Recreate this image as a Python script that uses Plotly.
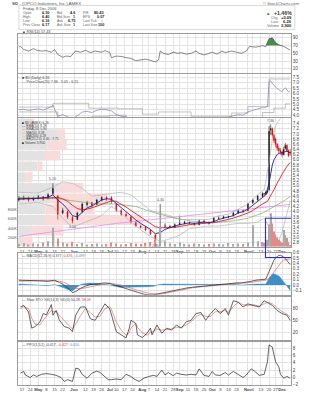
import numpy as np
import plotly.graph_objects as go

# ---------------- data (x = trading-day index, 12 Apr .. 8 Dec 2006) ----------------
tick_idx = [2, 7, 12, 17, 22, 27, 34, 41, 46, 51, 56, 60, 65, 70, 76, 80, 85, 90, 95, 99,
            104, 109, 114, 119, 124, 129, 134, 141, 144, 149, 154, 158, 162]
tick_text = ["17", "24", "<b>May</b>", "8", "15", "22", "<b>Jun</b>", "12", "19", "26", "<b>Jul</b>",
             "10", "17", "24", "<b>Aug</b>", "7", "14", "21", "28", "<b>Sep</b>", "11", "18", "25",
             "<b>Oct</b>", "9", "16", "23", "<b>Nov</b>", "6", "13", "20", "27", "<b>Dec</b>"]

c_idx = [0, 3, 6, 9, 12, 15, 18, 21, 24, 27, 30, 33, 36, 39, 42, 45, 48, 51, 54, 57,
         60, 63, 66, 69, 72, 75, 78, 81, 84, 87, 90, 93, 96, 99, 102, 105, 108, 111, 114, 117,
         120, 123, 126, 129, 132, 135, 138, 141, 144, 147, 150, 151, 152, 153, 154, 155, 156, 157,
         158, 159, 160, 161, 162, 163, 164, 165, 166, 167]
c_open = [4.45, 4.50, 4.55, 4.45, 4.50, 4.58, 4.50, 4.70, 4.60, 3.95, 4.00, 3.78, 3.70, 4.00, 4.28, 4.35, 4.28, 4.45, 4.55, 4.55,
          4.30, 4.05, 3.90, 3.80, 3.58, 3.45, 3.40, 3.30, 3.10, 3.00, 3.45, 3.45, 3.40, 3.50, 3.55, 3.60, 3.55, 3.50, 3.65, 3.60,
          3.60, 3.75, 3.75, 3.80, 3.85, 3.95, 4.05, 4.05, 4.35, 4.45, 4.60, 4.70, 4.68, 4.75, 4.85, 7.15, 7.20, 6.95,
          6.80, 6.60, 6.45, 6.35, 6.30, 6.20, 6.45, 6.55, 6.35, 6.30]
c_high = [4.60, 4.62, 4.58, 4.58, 4.65, 4.60, 4.72, 5.10, 4.65, 4.15, 4.05, 3.85, 4.00, 4.35, 4.42, 4.38, 4.50, 4.60, 4.60, 4.60,
          4.35, 4.10, 3.98, 3.85, 3.62, 3.50, 3.45, 3.32, 3.15, 4.30, 3.55, 3.50, 3.55, 3.85, 3.65, 3.62, 3.58, 3.70, 3.68, 3.62,
          3.80, 3.82, 3.85, 3.85, 4.00, 4.10, 4.08, 4.35, 4.50, 4.65, 4.75, 4.72, 4.80, 4.85, 7.30, 7.36, 7.25, 7.00,
          6.85, 6.65, 6.55, 6.45, 6.35, 6.50, 6.65, 6.60, 6.40, 6.40]
c_low = [4.40, 4.45, 4.38, 4.42, 4.48, 4.42, 4.48, 4.65, 3.70, 3.90, 3.72, 3.55, 3.68, 3.98, 4.20, 4.18, 4.25, 4.40, 4.42, 4.30,
         4.00, 3.85, 3.80, 3.55, 3.42, 3.35, 3.25, 3.10, 2.85, 2.95, 3.40, 3.35, 3.38, 3.48, 3.52, 3.50, 3.45, 3.48, 3.55, 3.50,
         3.58, 3.70, 3.72, 3.75, 3.82, 3.92, 3.95, 4.02, 4.30, 4.42, 4.55, 4.60, 4.65, 4.70, 4.80, 6.95, 6.85, 6.65,
         6.50, 6.35, 6.25, 6.20, 6.10, 6.18, 6.40, 6.30, 6.10, 6.16]
c_close = [4.50, 4.55, 4.45, 4.50, 4.58, 4.48, 4.65, 4.90, 3.90, 4.05, 3.80, 3.65, 3.95, 4.30, 4.35, 4.25, 4.45, 4.55, 4.50, 4.40,
           4.05, 3.90, 3.85, 3.60, 3.45, 3.40, 3.30, 3.15, 2.95, 3.40, 3.45, 3.40, 3.50, 3.55, 3.60, 3.55, 3.50, 3.65, 3.60, 3.55,
           3.75, 3.75, 3.80, 3.80, 3.95, 4.05, 4.00, 4.30, 4.45, 4.60, 4.70, 4.68, 4.75, 4.80, 7.10, 7.20, 6.95, 6.75,
           6.60, 6.45, 6.35, 6.30, 6.20, 6.40, 6.55, 6.35, 6.17, 6.26]
volume_k = [60, 80, 50, 70, 60, 90, 120, 410, 180, 90, 70, 110, 60, 80, 50, 60, 70, 50, 60, 90,
            70, 50, 60, 80, 70, 60, 80, 100, 150, 430, 120, 70, 60, 90, 60, 50, 70, 60, 50, 60,
            70, 60, 50, 80, 60, 70, 60, 90, 460, 120, 100, 80, 90, 150, 480, 720, 500, 330,
            260, 200, 150, 120, 90, 360, 250, 190, 100, 40]

ma_fast_idx = [0, 6, 12, 18, 21, 24, 27, 30, 33, 36, 39, 42, 45, 48, 51, 54, 57, 60, 63, 66, 69, 72, 75, 78, 81, 84,
               87, 90, 93, 96, 99, 102, 105, 108, 111, 114, 117, 120, 123, 126, 129, 132, 135, 138, 141, 144, 147,
               150, 152, 154, 155, 156, 157, 158, 159, 160, 161, 162, 163, 164, 165, 166, 167]
ma_fast = [4.50, 4.50, 4.52, 4.56, 4.65, 4.45, 4.30, 4.10, 3.85, 3.80, 3.98, 4.15, 4.22, 4.32, 4.45, 4.50, 4.48, 4.32, 4.15,
           4.00, 3.85, 3.68, 3.55, 3.45, 3.32, 3.15, 3.20, 3.32, 3.40, 3.45, 3.50, 3.55, 3.57, 3.55, 3.58, 3.60, 3.58,
           3.62, 3.70, 3.75, 3.78, 3.85, 3.95, 4.00, 4.10, 4.25, 4.42, 4.58, 4.65, 5.10, 5.50, 5.80, 6.00, 6.12, 6.20,
           6.25, 6.28, 6.28, 6.30, 6.32, 6.33, 6.30, 6.28]
ma_slow_idx = [0, 6, 12, 18, 24, 27, 30, 33, 36, 39, 42, 45, 48, 51, 54, 57, 60, 63, 66, 69, 72, 75, 78, 81, 84, 87, 90,
               93, 96, 99, 102, 105, 108, 111, 114, 117, 120, 123, 126, 129, 132, 135, 138, 141, 144, 147, 150, 153,
               155, 157, 159, 161, 163, 165, 167]
ma_slow = [4.48, 4.50, 4.50, 4.52, 4.55, 4.50, 4.40, 4.25, 4.12, 4.08, 4.10, 4.15, 4.22, 4.30, 4.38, 4.42, 4.40, 4.30,
           4.18, 4.05, 3.92, 3.78, 3.65, 3.55, 3.42, 3.38, 3.38, 3.38, 3.40, 3.43, 3.47, 3.50, 3.52, 3.53, 3.55, 3.56,
           3.58, 3.62, 3.66, 3.70, 3.75, 3.82, 3.88, 3.95, 4.05, 4.18, 4.30, 4.40, 4.60, 4.85, 5.10, 5.35, 5.55, 5.75, 5.90]
ma50_idx = [0, 12, 24, 36, 48, 60, 72, 84, 96, 108, 120, 132, 141, 150, 156, 160, 164, 167]
ma50 = [4.55, 4.52, 4.50, 4.40, 4.30, 4.30, 4.20, 3.95, 3.75, 3.62, 3.58, 3.65, 3.75, 3.95, 4.15, 4.30, 4.45, 4.58]
ma200_idx = [0, 30, 60, 90, 120, 150, 167]
ma200 = [3.05, 3.30, 3.55, 3.75, 3.95, 4.15, 4.28]
bb_up_idx = [0, 12, 21, 27, 33, 39, 45, 51, 57, 63, 69, 75, 81, 87, 93, 99, 105, 111, 117, 123, 129, 135, 141, 147,
             151, 154, 156, 158, 161, 164, 167]
bb_up = [4.75, 4.72, 4.95, 5.15, 5.10, 4.90, 4.60, 4.65, 4.70, 4.75, 4.65, 4.35, 4.05, 3.95, 3.85, 3.70, 3.70, 3.70,
         3.70, 3.85, 3.90, 4.10, 4.30, 4.65, 4.85, 5.90, 6.80, 7.30, 7.60, 7.70, 7.75]
bb_lo_idx = [0, 12, 21, 27, 33, 39, 45, 51, 57, 63, 69, 75, 81, 87, 93, 99, 105, 111, 117, 123, 129, 135, 141, 147,
             151, 154, 156, 158, 160, 162, 164, 167]
bb_lo = [4.30, 4.35, 4.20, 3.75, 3.40, 3.55, 3.70, 3.85, 4.20, 3.95, 3.60, 3.30, 3.05, 2.85, 2.95, 3.10, 3.35, 3.40,
         3.45, 3.45, 3.50, 3.55, 3.55, 3.60, 3.75, 3.40, 3.05, 2.85, 2.90, 3.20, 3.70, 4.40]

vbp_price = [2.86, 3.27, 3.68, 4.10, 4.51, 4.92, 5.33, 5.75, 6.16, 6.57, 6.99, 7.40]
vbp_up = [3, 8, 16, 17, 20, 25, 5, 12, 16, 18, 24, 8]
vbp_down = [6, 20, 60, 30, 35, 15, 4, 3, 10, 12, 5, 2]

ch_up_idx = [0, 21, 43, 61, 76, 86, 106, 116, 131, 141, 154, 167]
ch_up = [4.75, 5.10, 4.65, 4.60, 4.10, 4.30, 3.90, 3.90, 4.20, 4.80, 7.36, 7.36]
ch_lo_idx = [0, 24, 45, 56, 66, 72, 84, 106, 121, 136, 150, 157, 164, 167]
ch_lo = [4.30, 3.55, 3.90, 4.00, 3.60, 3.30, 2.85, 3.35, 3.45, 3.70, 4.25, 4.65, 5.05, 5.05]

rsi_idx = [0, 1, 3, 6, 9, 11, 14, 17, 20, 22, 24, 27, 29, 32, 34, 35, 38, 41, 44, 47, 51, 53, 56, 57, 60, 63, 66,
           69, 72, 75, 78, 81, 84, 86, 87, 89, 92, 95, 98, 100, 103, 106, 109, 111, 114, 117, 119, 122, 125, 127,
           131, 134, 137, 140, 142, 146, 150, 152, 154, 156, 158, 160, 163, 167]
rsi_val = [66, 68, 60, 56, 62, 58, 56, 57, 53, 60, 47, 40, 43, 42, 52, 56, 53, 58, 52, 56, 53, 57, 52, 39, 43, 42, 39,
           37, 31, 33, 35, 32, 28, 33, 56, 50, 47, 53, 50, 52, 48, 50, 56, 50, 46, 50, 53, 48, 56, 52,
           56, 53, 50, 56, 68, 66, 70, 67, 88, 90, 78, 72, 68, 58]

macd_idx = [0, 6, 12, 18, 22, 25, 28, 31, 33, 35, 38, 41, 44, 47, 50, 53, 56, 59, 62, 65, 68, 71, 74, 77, 80, 83, 86,
            89, 92, 95, 98, 101, 104, 107, 110, 113, 116, 119, 122, 125, 128, 131, 134, 137, 140, 143, 146, 149,
            152, 154, 155, 156, 157, 158, 159, 160, 161, 162, 163, 164, 165, 166, 167]
macd_line = [0.09, 0.09, 0.08, 0.07, 0.09, 0.05, 0.00, -0.08, -0.14, -0.12, -0.06, -0.02, 0.01, 0.02, 0.03, 0.04, 0.03,
             0.00, -0.03, -0.06, -0.09, -0.12, -0.15, -0.17, -0.18, -0.18, -0.16, -0.14, -0.12, -0.10, -0.08, -0.06,
             -0.05, -0.04, -0.03, -0.02, -0.01, 0.00, 0.01, 0.02, 0.03, 0.03, 0.04, 0.04, 0.05, 0.07, 0.09, 0.10,
             0.11, 0.25, 0.33, 0.40, 0.46, 0.50, 0.53, 0.55, 0.55, 0.54, 0.52, 0.49, 0.45, 0.41, 0.38]
macd_signal = [0.07, 0.08, 0.08, 0.08, 0.08, 0.07, 0.05, 0.01, -0.03, -0.06, -0.07, -0.05, -0.03, -0.01, 0.01, 0.02,
               0.03, 0.02, 0.01, -0.02, -0.05, -0.08, -0.11, -0.13, -0.15, -0.16, -0.17, -0.16, -0.14, -0.12, -0.10,
               -0.08, -0.07, -0.05, -0.04, -0.03, -0.02, -0.01, 0.00, 0.01, 0.02, 0.02, 0.03, 0.04, 0.04, 0.05, 0.07,
               0.08, 0.09, 0.12, 0.16, 0.20, 0.25, 0.30, 0.34, 0.38, 0.41, 0.44, 0.46, 0.47, 0.48, 0.48, 0.48]
macd_hist = [0.02, 0.01, 0.00, -0.01, 0.01, -0.02, -0.05, -0.09, -0.11, -0.06, 0.01, 0.03, 0.04, 0.03, 0.02, 0.02, 0.00,
             -0.02, -0.04, -0.04, -0.04, -0.04, -0.04, -0.04, -0.03, -0.02, 0.01, 0.02, 0.02, 0.02, 0.02, 0.02, 0.02,
             0.01, 0.01, 0.01, 0.01, 0.01, 0.01, 0.01, 0.01, 0.01, 0.01, 0.00, 0.01, 0.02, 0.02, 0.02, 0.02, 0.13,
             0.17, 0.20, 0.21, 0.20, 0.19, 0.17, 0.14, 0.10, 0.06, 0.02, -0.03, -0.07, -0.10]

sto_idx = [1, 3, 6, 8, 10, 13, 15, 17, 20, 21, 23, 25, 28, 31, 33, 35, 38, 41, 44, 47, 50, 53, 56, 57, 60, 63, 66, 68,
           69, 72, 73, 76, 79, 81, 82, 85, 88, 91, 94, 97, 100, 103, 106, 109, 112, 115, 118, 121, 124, 127, 129,
           132, 135, 138, 141, 144, 148, 151, 153, 156, 159, 162, 165, 167]
sto_k = [84, 88, 71, 30, 34, 46, 67, 64, 90, 63, 75, 50, 34, 30, 21, 63, 84, 84, 54, 50, 71, 92, 79, 63, 21, 13, 5, 30,
         50, 42, 13, 6, 17, 30, 13, 38, 17, 30, 25, 38, 30, 46, 50, 67, 70, 50, 67, 80, 67, 80, 63,
         100, 96, 84, 92, 88, 84, 100, 96, 88, 75, 67, 63, 50]
sto_d = [80, 85, 80, 55, 40, 38, 50, 60, 75, 72, 72, 62, 48, 36, 28, 40, 62, 80, 70, 58, 60, 80, 85, 78, 45, 25, 12, 18,
         30, 42, 32, 18, 12, 20, 20, 28, 25, 26, 28, 32, 32, 38, 46, 58, 66, 60, 60, 72, 72, 75, 70,
         85, 96, 90, 88, 90, 86, 92, 96, 92, 82, 72, 66, 58]

ppo_idx = [1, 3, 4, 7, 9, 11, 14, 17, 20, 23, 26, 28, 30, 33, 35, 37, 39, 42, 45, 48, 50, 53, 55, 57, 60, 63, 66, 69,
           71, 74, 77, 80, 83, 85, 88, 90, 92, 95, 97, 100, 103, 106, 109, 111, 114, 117, 119, 121, 124, 127, 129,
           132, 135, 138, 140, 143, 145, 148, 151, 153, 154, 156, 158, 160, 161, 163, 165, 167]
ppo_val = [1.1, 1.6, 0.6, -0.1, 0.6, 0.2, 0.8, 1.0, 0.8, 0.5, -0.1, -1.2, -0.7, -1.2, 2.5, 2.3, 0.8, -0.3, 1.1, 1.7,
           1.3, 0.2, -0.7, -0.7, -0.5, -0.7, 0.8, 0.2, -0.5, -1.2, -0.3, 0.2, 0.5, 0.2, 2.0, 0.6, 1.3, 0.4, 1.1, 0.8,
           0.6, 0.8, 0.6, 2.3, 0.5, 0.2, 1.6, 0.6, 0.5, 1.3, 0.6, 1.6, 0.8, -0.1, 0.6, 2.3, 1.7, 0.5, 0.8, 4.3,
           9.0, 8.4, 4.3, 2.9, 0.8, -0.3, 0.2, -0.3]

# ---------------- layout helpers ----------------
W, H = 310, 400
PL, PR, PT, PB = 10, 294, 34, 392
FONT = "Liberation Sans"
GRID = "#e3e3e3"
AXL = "#9c9c9c"


def X(px):
    return (px - PL) / (PR - PL)


def Y(py):
    return 1 - (py - PT) / (PB - PT)


def dom(top, bot):
    return [Y(bot), Y(top)]


fig = go.Figure()

# ---- RSI panel (x, y) ----
fig.add_trace(go.Scatter(x=rsi_idx, y=[70] * len(rsi_idx), mode="lines", line=dict(width=0),
                         xaxis="x", yaxis="y", hoverinfo="skip", showlegend=False))
fig.add_trace(go.Scatter(x=rsi_idx, y=np.maximum(np.array(rsi_val, float), 70), mode="lines",
                         line=dict(width=0), fill="tonexty", fillcolor="#4c8a4c",
                         xaxis="x", yaxis="y", hoverinfo="skip", showlegend=False))
fig.add_trace(go.Scatter(x=rsi_idx, y=rsi_val, mode="lines", line=dict(color="#3a3a3a", width=0.6),
                         xaxis="x", yaxis="y", showlegend=False))

# ---- price channel panel (x2, y2) ----
fig.add_trace(go.Scatter(x=ch_up_idx, y=ch_up, mode="lines", line=dict(color="#9a9a9a", width=0.6, shape="hv"),
                         xaxis="x2", yaxis="y2", showlegend=False))
fig.add_trace(go.Scatter(x=ch_lo_idx, y=ch_lo, mode="lines", line=dict(color="#9a9a9a", width=0.6, shape="hv"),
                         xaxis="x2", yaxis="y2", showlegend=False))
fig.add_trace(go.Scatter(x=c_idx, y=c_close, mode="lines", line=dict(color="#6a6ab4", width=0.6),
                         xaxis="x2", yaxis="y2", showlegend=False))

# ---- main price panel (x3, y3) ----
fig.add_trace(go.Bar(y=vbp_price, x=vbp_up, base=-0.5, orientation="h", width=0.38,
                     marker=dict(color="#e2e2e2", line=dict(width=0)), xaxis="x3", yaxis="y3",
                     showlegend=False))
fig.add_trace(go.Bar(y=vbp_price, x=vbp_down, base=[-0.5 + v for v in vbp_up], orientation="h", width=0.38,
                     marker=dict(color="#f8dcdc", line=dict(width=0)), xaxis="x3", yaxis="y3",
                     showlegend=False))
fig.add_trace(go.Scatter(x=ma200_idx, y=ma200, mode="lines", line=dict(color="#e58be5", width=0.8),
                         xaxis="x3", yaxis="y3", showlegend=False))
fig.add_trace(go.Scatter(x=ma50_idx, y=ma50, mode="lines", line=dict(color="#7fa86f", width=0.7),
                         xaxis="x3", yaxis="y3", showlegend=False))
fig.add_trace(go.Scatter(x=bb_up_idx, y=bb_up, mode="lines", line=dict(color="#a8a8a8", width=0.6),
                         xaxis="x3", yaxis="y3", showlegend=False))
fig.add_trace(go.Scatter(x=bb_lo_idx, y=bb_lo, mode="lines", line=dict(color="#a8a8a8", width=0.6),
                         xaxis="x3", yaxis="y3", showlegend=False))
fig.add_trace(go.Scatter(x=ma_slow_idx, y=ma_slow, mode="lines", line=dict(color="#d42020", width=0.9),
                         xaxis="x3", yaxis="y3", showlegend=False))
fig.add_trace(go.Scatter(x=ma_fast_idx, y=ma_fast, mode="lines", line=dict(color="#20209a", width=0.9),
                         xaxis="x3", yaxis="y3", showlegend=False))
fig.add_trace(go.Candlestick(x=c_idx, open=c_open, high=c_high, low=c_low, close=c_close,
                             increasing=dict(line=dict(color="#111111", width=0.6), fillcolor="#111111"),
                             decreasing=dict(line=dict(color="#d00000", width=0.6), fillcolor="#d00000"),
                             whiskerwidth=0, xaxis="x3", yaxis="y3", showlegend=False))
vol_colors = ["#e08a8a" if c < o else "#a9a9a9" for o, c in zip(c_open, c_close)]
fig.add_trace(go.Bar(x=c_idx, y=volume_k, marker=dict(color=vol_colors, line=dict(width=0)),
                     xaxis="x3", yaxis="y7", showlegend=False))

# ---- MACD panel (x4, y4) ----
fig.add_trace(go.Scatter(x=macd_idx, y=macd_hist, mode="lines", line=dict(color="#3d8fc6", width=0.4),
                         fill="tozeroy", fillcolor="#3d8fc6", xaxis="x4", yaxis="y4", showlegend=False))
fig.add_trace(go.Scatter(x=macd_idx, y=macd_signal, mode="lines", line=dict(color="#e06a6a", width=0.7),
                         xaxis="x4", yaxis="y4", showlegend=False))
fig.add_trace(go.Scatter(x=macd_idx, y=macd_line, mode="lines", line=dict(color="#222222", width=0.7),
                         xaxis="x4", yaxis="y4", showlegend=False))

# ---- Slow stochastic (x5, y5) ----
fig.add_trace(go.Scatter(x=sto_idx, y=sto_d, mode="lines", line=dict(color="#e07070", width=0.7),
                         xaxis="x5", yaxis="y5", showlegend=False))
fig.add_trace(go.Scatter(x=sto_idx, y=sto_k, mode="lines", line=dict(color="#222222", width=0.7),
                         xaxis="x5", yaxis="y5", showlegend=False))

# ---- PPO (x6, y6) ----
fig.add_trace(go.Scatter(x=ppo_idx, y=ppo_val, mode="lines", line=dict(color="#222222", width=0.7),
                         xaxis="x6", yaxis="y6", showlegend=False))

# ---------------- axes ----------------
tickfont = dict(family=FONT, size=4.6, color="#444444")
panels = {
    1: dict(top=34, bot=73.5, rng=[0, 100], ticks=[10, 30, 50, 70, 90], fmt="d"),
    2: dict(top=75, bot=119, rng=[3.8, 7.8], ticks=[4.0, 4.5, 5.0, 5.5, 6.0, 6.5, 7.0, 7.5], fmt=".1f"),
    3: dict(top=120, bot=251, rng=[2.65, 7.6], ticks=[round(2.8 + 0.2 * i, 1) for i in range(24)], fmt=".1f"),
    4: dict(top=257, bot=300, rng=[-0.18, 0.6], ticks=[-0.1, 0.0, 0.1, 0.2, 0.3, 0.4, 0.5, 0.6], fmt=".1f"),
    5: dict(top=302, bot=346, rng=[0, 110], ticks=[20, 50, 80], fmt="d"),
    6: dict(top=348, bot=392, rng=[-2.19, 9.86], ticks=[-2, 0, 2, 4, 6, 8], fmt="d"),
}
layout = dict(
    width=W, height=H, autosize=False,
    margin=dict(l=PL, r=W - PR, t=PT, b=H - PB, pad=0),
    paper_bgcolor="white", plot_bgcolor="white",
    font=dict(family=FONT, size=5, color="#333"),
    barmode="overlay", bargap=0.2, showlegend=False,
)
for i, p in panels.items():
    xs = "" if i == 1 else str(i)
    layout["xaxis" + xs] = dict(
        domain=[0, 1], anchor="y" + xs, range=[-0.5, 167.5],
        tickmode="array", tickvals=tick_idx, ticktext=tick_text, tickangle=0,
        showticklabels=(i in (3, 6)), ticks="", ticklen=0, tickfont=dict(family=FONT, size=4.2, color="#444"),
        showgrid=True, gridcolor=GRID, gridwidth=0.6, zeroline=False,
        showline=True, linecolor=AXL, linewidth=0.7, mirror=True,
        rangeslider=dict(visible=False),
        **({} if i == 1 else dict(matches="x")))
    layout["yaxis" + xs] = dict(
        domain=dom(p["top"], p["bot"]), anchor="x" + xs, range=p["rng"], side="right",
        tickmode="array", tickvals=p["ticks"], tickformat=p["fmt"], ticks="", tickfont=tickfont,
        showgrid=True, gridcolor=GRID, gridwidth=0.6, zeroline=False,
        showline=True, linecolor=AXL, linewidth=0.7, mirror=True)
layout["yaxis7"] = dict(overlaying="y3", anchor="x3", side="left", range=[0, 2760],
                        tickmode="array", tickvals=[200, 400, 600, 800],
                        ticktext=["200K", "400K", "600K", "800K"], ticks="",
                        tickfont=dict(family=FONT, size=4, color="#555"), showgrid=False, zeroline=False)
fig.update_layout(**layout)

# ---------------- text ----------------
ann = []


def txt(px, py, s, size=4.4, color="#333", anchor="left", bold=False):
    ann.append(dict(x=X(px), y=Y(py), xref="paper", yref="paper", text=("<b>%s</b>" % s) if bold else s,
                    showarrow=False, xanchor=anchor, yanchor="middle",
                    font=dict(family=FONT, size=size, color=color)))


txt(2, 3, "<b>SD</b> - (OPCO Industries, Inc.) AMEX", size=4.4, color="#555")
txt(305, 3, "© StockCharts.com", size=4.2, color="#666", anchor="right")
txt(13, 7.5, "Friday, 8 Dec 2006", size=4.0, color="#555")
rows_y = [12.8, 16.8, 20.8, 24.9]
for y_, a, av, b, bv, c, cv in zip(rows_y,
                                   ["Open", "High", "Low", "Prev Close"], ["6.30", "6.40", "6.16", "6.17"],
                                   ["Bid", "Bid Size", "Ask", "Ask Size"], ["4.6", "1", "6.75", "1"],
                                   ["P/E", "EPS", "Last Tick", "Last Size"], ["80.43", "0.07", "", "100"]):
    txt(13, y_, a, size=3.5, color="#666")
    txt(44, y_, av, size=3.8, color="#222", anchor="right", bold=True)
    txt(49, y_, b, size=3.5, color="#666")
    txt(71, y_, bv, size=3.8, color="#222", anchor="right", bold=True)
    txt(76, y_, c, size=3.5, color="#666")
    txt(102, y_, cv, size=3.8, color="#222", anchor="right", bold=True)
txt(100, 20.8, "↑", size=4.4, color="#cc0000", anchor="right", bold=True)
txt(266, 12.6, "▲", size=4.4, color="#2c7a2c")
txt(297, 12.4, "+1.46%", size=5.2, color="#333", anchor="right", bold=True)
txt(271, 17.6, "Chg", size=3.6, color="#666")
txt(297, 17.6, "+0.09", size=4.1, color="#222", anchor="right", bold=True)
txt(271, 21.6, "Last", size=3.6, color="#666")
txt(297, 21.6, "6.26", size=4.1, color="#222", anchor="right", bold=True)
txt(267, 25.8, "Volume", size=3.6, color="#666")
txt(297, 25.8, "3,900", size=4.1, color="#222", anchor="right", bold=True)

txt(12, 31.8, "▲ RSI(14) 57.43", size=3.8, color="#444")
txt(12, 79.2, "■ $D (Daily) 6.26", size=3.6, color="#444")
txt(12, 82.6, "<span style='color:#888'>—</span> PriceChan(20) 7.36 - 5.05 - 6.21", size=3.6, color="#444")
main_lines = [
    ("#111", "■", "$D (AMEX) 6.26"),
    ("#20209a", "—", "EMA(10) 6.28"),
    ("#d42020", "—", "EMA(20) 5.90"),
    ("#7fa86f", "—", "MA(50) 4.58"),
    ("#e58be5", "—", "MA(200) 4.28"),
    ("#999", "—", "BB(20,2.0) 4.40 - 7.75"),
    ("#111", "■", "Volume 3,900"),
]
for k, (col, sym, s) in enumerate(main_lines):
    txt(12, 124.5 + 3.4 * k, "<span style='color:%s'>%s</span> %s" % (col, sym, s), size=3.3, color="#444")
txt(12, 260.5, "— MACD(12,26,9) 0.377, <span style='color:#d33'>0.476</span>, "
               "<span style='color:#3d8fc6'>-0.099</span>", size=3.6, color="#444")
txt(12, 305.5, "— Slow STO %K(14,3) %D(3) 50.28, <span style='color:#d33'>58.09</span>", size=3.6, color="#444")
txt(12, 351, "— PPO(1,5,1) -0.417, <span style='color:#d33'>-0.427</span>, "
             "<span style='color:#3d8fc6'>0.010</span>", size=3.6, color="#444")

# price notes on main panel
for xi, yv, s, sh in [(155, 7.36, "7.36", 4), (21, 5.10, "5.10", 4), (33, 3.55, "3.55", -4),
                      (87, 4.30, "4.30", 4), (84, 2.85, "2.85", -4)]:
    ann.append(dict(x=xi, y=yv, xref="x3", yref="y3", text=s, showarrow=False, yshift=sh,
                    font=dict(family=FONT, size=3.6, color="#555")))
fig.update_layout(annotations=ann)

# ---------------- shapes ----------------
fig.update_layout(shapes=[
    dict(type="rect", xref="paper", yref="paper", x0=X(11), x1=X(298), y0=Y(29.5), y1=Y(5),
         line=dict(color="#c9c9c9", width=0.7), fillcolor="rgba(0,0,0,0)"),
    dict(type="rect", xref="x3", yref="paper", x0=151.8, x1=168.3, y0=Y(262), y1=Y(222),
         line=dict(color="#2a2ae0", width=1.1), fillcolor="rgba(0,0,0,0)"),
])

fig.write_html("out.html")
